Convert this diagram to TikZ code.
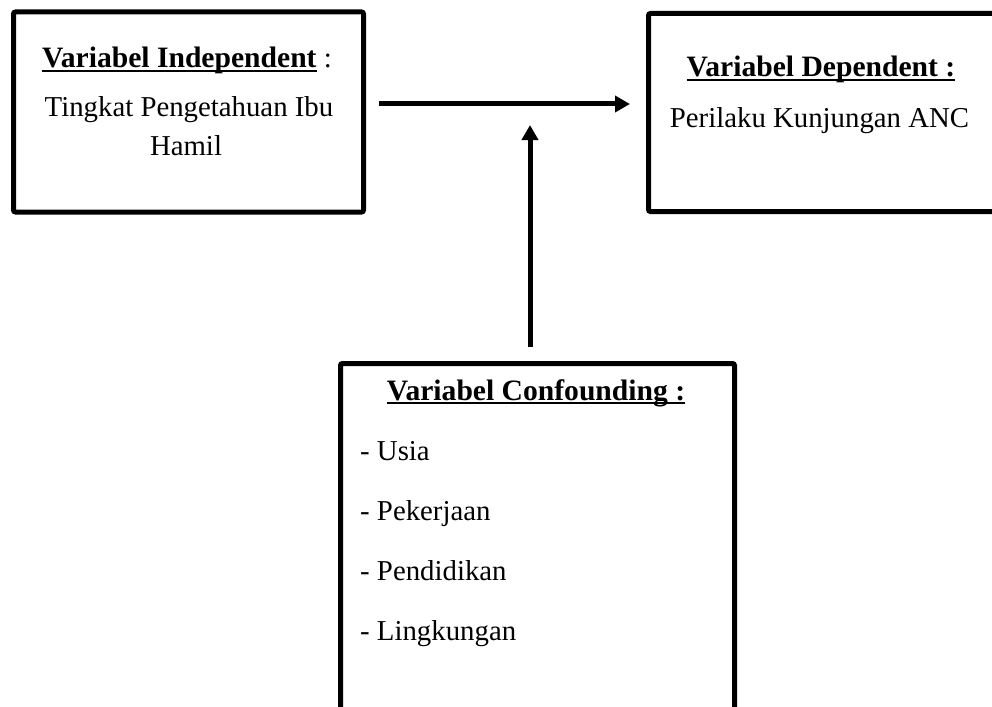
\documentclass[tikz,border=0pt]{standalone}
\usepackage{fontspec}
\setmainfont{Liberation Serif}
\usetikzlibrary{arrows.meta}

\newcommand{\ulin}[1]{{\setbox0\hbox{#1}\rlap{\rule[-4pt]{\wd0}{1.8pt}}\box0}}

\tikzset{
  box/.style={draw, line width=5pt, rounded corners=2pt, inner sep=0pt},
  conn/.style={line width=5pt, -{Triangle[length=15pt,width=16pt]}},
  txt/.style={font=\fontsize{28.8}{38}\selectfont, anchor=base, inner sep=0pt},
  ttl/.style={txt, font=\fontsize{29.6}{38}\selectfont\bfseries}
}

\begin{document}
\begin{tikzpicture}[x=1pt,y=-1pt]
  \clip (0,0) rectangle (992,706);
  % boxes
  \node[box, minimum width=350pt, minimum height=200pt, anchor=north west] (indep) at (11,9.5) {};
  \node[box, minimum width=360pt, minimum height=198pt, anchor=north west] (dep) at (646,11) {};
  \node[box, minimum width=394pt, minimum height=360pt, anchor=north west] (conf) at (338,361) {};

  % texts
  \node[ttl] (indep-t) at (187,68) {\ulin{Variabel Independent}\fontsize{28.8}{38}\mdseries\selectfont\ :};
  \node[txt] (indep-a) at (189,117) {Tingkat Pengetahuan Ibu};
  \node[txt] (indep-b) at (186,155) {Hamil};

  \node[ttl] (dep-t) at (821,77) {\ulin{Variabel Dependent :}};
  \node[txt] (dep-a) at (819.5,128) {Perilaku Kunjungan ANC};

  \node[ttl] (conf-t) at (536,400) {\ulin{Variabel Confounding :}};
  \node[txt, anchor=base west] (conf-a) at (360,460) {- Usia};
  \node[txt, anchor=base west] (conf-b) at (360,520) {- Pekerjaan};
  \node[txt, anchor=base west] (conf-c) at (360,580) {- Pendidikan};
  \node[txt, anchor=base west] (conf-d) at (360,640) {- Lingkungan};

  % arrows
  \coordinate (meet) at (530,104);
  \draw[conn, shorten <=13pt, shorten >=16pt] (indep.east |- meet) -- (dep.west |- meet);
  \draw[conn, shorten <=14pt, shorten >=21pt] (conf.north -| meet) -- (meet);
\end{tikzpicture}
\end{document}
